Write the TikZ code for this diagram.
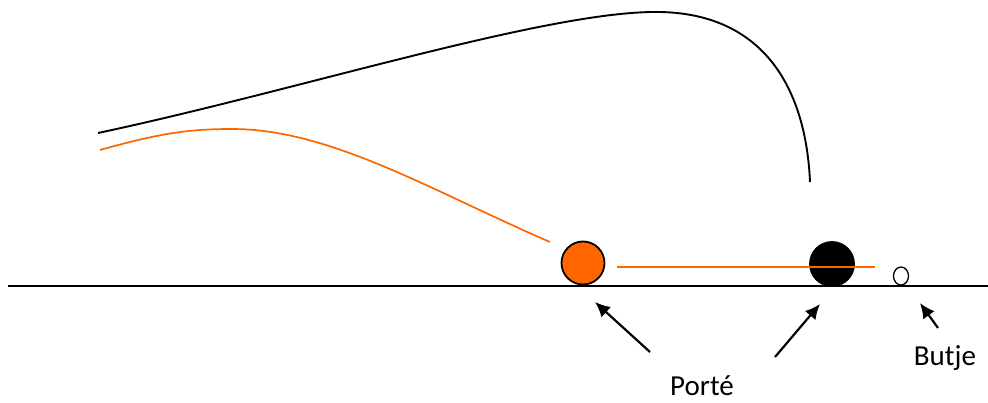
\documentclass[tikz,border=0pt]{standalone}
\usepackage{fontspec}
\setmainfont{Carlito}
\usetikzlibrary{shapes.geometric,arrows.meta}
\definecolor{porange}{RGB}{255,102,0}
\begin{document}
\begin{tikzpicture}[x=1pt,y=-1pt,
  ballline/.style={line width=1.8pt},
  arr/.style={line width=2.2pt,-{Latex[length=15pt,width=14pt]}},
  lbl/.style={font=\fontsize{29}{32}\selectfont,inner sep=0pt}]
\useasboundingbox (0,0) rectangle (988,403);
% ground
\coordinate (g0) at (8,286);
\coordinate (g1) at (988,286);
\draw[line width=1.6pt] (g0) -- (g1);
% balls
\node[circle,draw,ballline,fill=porange,minimum size=43pt,inner sep=0pt] (orball) at (583,263) {};
\node[circle,draw,ballline,fill=black,minimum size=44pt,inner sep=0pt] (blball) at (832,264) {};
\node[ellipse,draw,line width=1.3pt,minimum width=15pt,minimum height=18pt,inner sep=0pt] (butje) at (901,276) {};
% orange roll line
\coordinate (r0) at (617,267);
\coordinate (r1) at (875,267);
\draw[porange,line width=1.7pt] (r0) -- (r1);
% trajectories
\coordinate (b0) at (98,133);
\coordinate (bp) at (660,12);
\coordinate (b1) at (810,182);
\draw[line width=1.9pt] (b0) .. controls (300,90) and (550,10) .. (bp) .. controls (765,14) and (806,90) .. (b1);
\coordinate (o0) at (100,150);
\coordinate (op) at (232,129);
\coordinate (o1) at (550,242);
\draw[porange,line width=1.7pt] (o0) .. controls (160,133) and (190,129) .. (op) .. controls (330,129) and (430,190) .. (o1);
% labels and arrows
\node[lbl] (porte) at (702,386) {Porté};
\node[lbl] (butjelbl) at (945,358) {Butje};
\coordinate (a1s) at (650,352);
\coordinate (a1e) at (595,302);
\coordinate (a2s) at (775,357);
\coordinate (a2e) at (820,304);
\coordinate (a3s) at (938,328);
\coordinate (a3e) at (920,303);
\draw[arr] (a1s) -- (a1e);
\draw[arr] (a2s) -- (a2e);
\draw[arr] (a3s) -- (a3e);
\end{tikzpicture}
\end{document}
